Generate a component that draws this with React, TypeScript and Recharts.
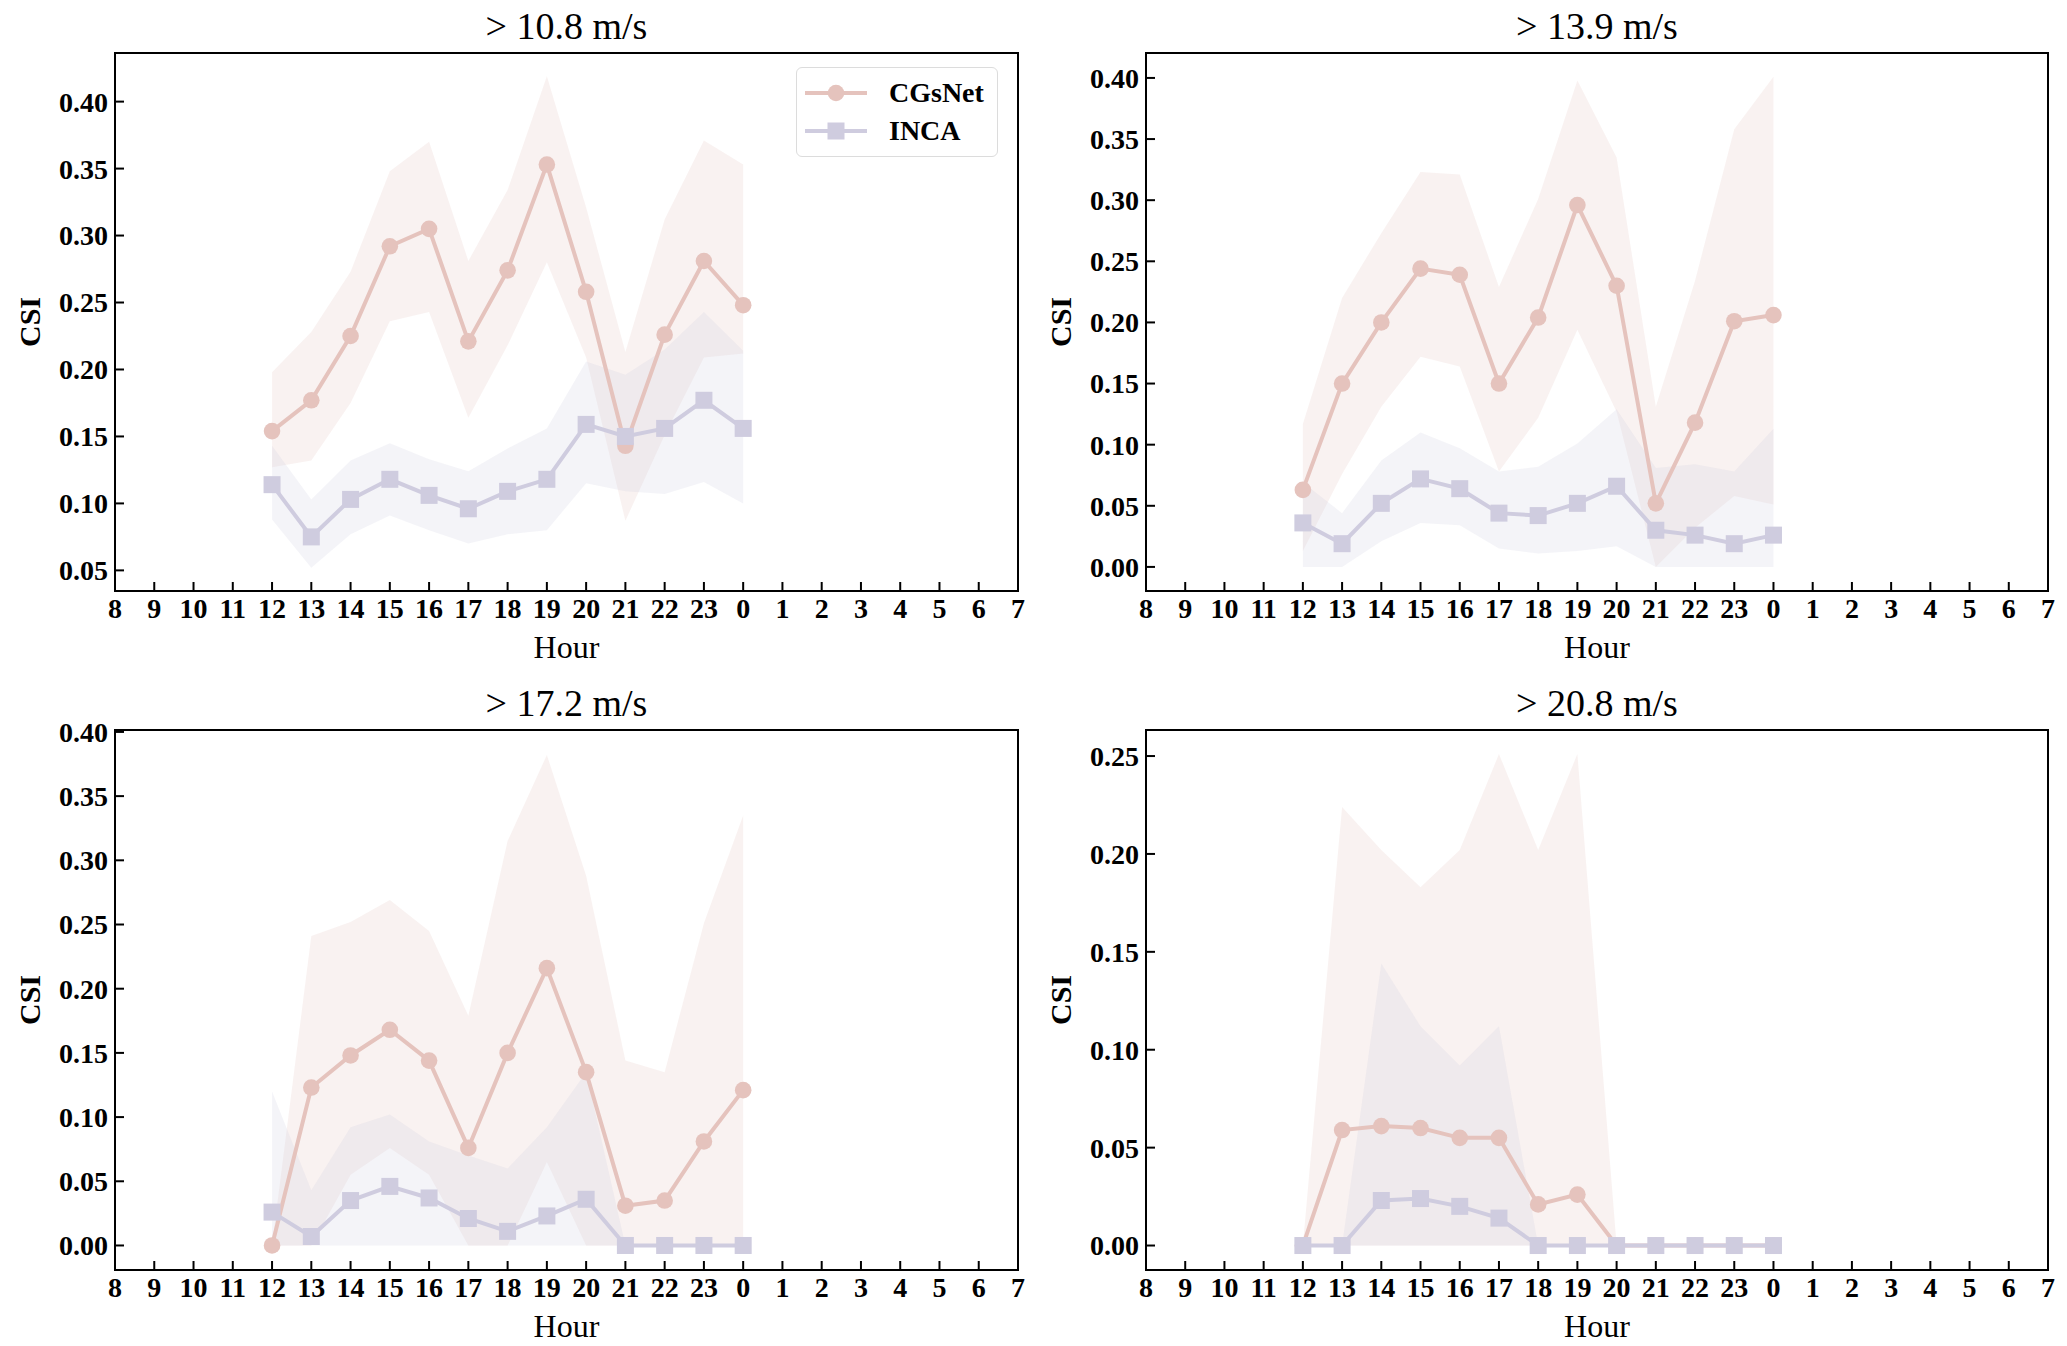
import {
  ComposedChart,
  Area,
  Line,
  XAxis,
  YAxis,
  ReferenceArea,
} from 'recharts';

const FONT = '"Liberation Serif", "Times New Roman", Times, serif';
const CG_COLOR = '#e5c3bd';
const INCA_COLOR = '#cfccdf';

// x axis runs 08 .. 07 next day, data spans 12 .. 00
const HOURS = ['8', '9', '10', '11', '12', '13', '14', '15', '16', '17', '18', '19', '20', '21', '22', '23', '0', '1', '2', '3', '4', '5', '6', '7'];
const FIRST_IDX = 4;

// > 10.8 m/s
const CG_108 = [0.154, 0.177, 0.225, 0.292, 0.305, 0.221, 0.274, 0.353, 0.258, 0.143, 0.226, 0.281, 0.248];
const CG_108_LO = [0.127, 0.132, 0.175, 0.236, 0.243, 0.164, 0.218, 0.28, 0.209, 0.087, 0.151, 0.209, 0.212];
const CG_108_HI = [0.198, 0.228, 0.273, 0.348, 0.37, 0.281, 0.334, 0.419, 0.321, 0.213, 0.312, 0.371, 0.353];
const INCA_108 = [0.114, 0.075, 0.103, 0.118, 0.106, 0.096, 0.109, 0.118, 0.159, 0.15, 0.156, 0.177, 0.156];
const INCA_108_LO = [0.088, 0.052, 0.077, 0.091, 0.08, 0.07, 0.077, 0.08, 0.115, 0.109, 0.107, 0.116, 0.1];
const INCA_108_HI = [0.143, 0.103, 0.132, 0.145, 0.133, 0.124, 0.141, 0.156, 0.206, 0.196, 0.215, 0.243, 0.214];

// > 13.9 m/s
const CG_139 = [0.063, 0.15, 0.2, 0.244, 0.239, 0.15, 0.204, 0.296, 0.23, 0.052, 0.118, 0.201, 0.206];
const CG_139_LO = [0.013, 0.076, 0.131, 0.172, 0.164, 0.078, 0.122, 0.194, 0.127, 0, 0.032, 0.058, 0.051];
const CG_139_HI = [0.117, 0.22, 0.273, 0.323, 0.321, 0.229, 0.301, 0.398, 0.335, 0.131, 0.234, 0.358, 0.401];
const INCA_139 = [0.036, 0.019, 0.052, 0.072, 0.064, 0.044, 0.042, 0.052, 0.066, 0.03, 0.026, 0.019, 0.026];
const INCA_139_LO = [0, 0, 0.021, 0.036, 0.034, 0.015, 0.011, 0.013, 0.017, 0, 0, 0, 0];
const INCA_139_HI = [0.069, 0.044, 0.087, 0.11, 0.097, 0.078, 0.082, 0.101, 0.129, 0.081, 0.084, 0.078, 0.113];

// > 17.2 m/s
const CG_172 = [0, 0.123, 0.148, 0.168, 0.144, 0.076, 0.15, 0.216, 0.135, 0.031, 0.035, 0.081, 0.121];
const CG_172_LO = [0, 0, 0.055, 0.076, 0.055, 0, 0, 0.065, 0, 0, 0, 0, 0];
const CG_172_HI = [0, 0.241, 0.252, 0.269, 0.245, 0.179, 0.315, 0.382, 0.288, 0.144, 0.135, 0.251, 0.335];
const INCA_172 = [0.026, 0.007, 0.035, 0.046, 0.037, 0.021, 0.011, 0.023, 0.036, 0, 0, 0, 0];
const INCA_172_LO = [0, 0, 0, 0, 0, 0, 0, 0, 0, 0, 0, 0, 0];
const INCA_172_HI = [0.12, 0.043, 0.092, 0.102, 0.081, 0.07, 0.06, 0.092, 0.135, 0, 0, 0, 0];

// > 20.8 m/s
const CG_208 = [0, 0.059, 0.061, 0.06, 0.055, 0.055, 0.021, 0.026, 0, 0, 0, 0, 0];
const CG_208_LO = [0, 0, 0, 0, 0, 0, 0, 0, 0, 0, 0, 0, 0];
const CG_208_HI = [0, 0.224, 0.202, 0.183, 0.202, 0.251, 0.202, 0.251, 0, 0, 0, 0, 0];
const INCA_208 = [0, 0, 0.023, 0.024, 0.02, 0.014, 0, 0, 0, 0, 0, 0, 0];
const INCA_208_LO = [0, 0, 0, 0, 0, 0, 0, 0, 0, 0, 0, 0, 0];
const INCA_208_HI = [0, 0, 0.144, 0.112, 0.092, 0.112, 0, 0, 0, 0, 0, 0, 0];

function buildRows(cg: number[], cgLo: number[], cgHi: number[], inca: number[], incaLo: number[], incaHi: number[]) {
  return cg.map((v, i) => ({
    x: FIRST_IDX + i,
    cg: v,
    cgBand: [cgLo[i], cgHi[i]],
    inca: inca[i],
    incaBand: [incaLo[i], incaHi[i]],
  }));
}

const TICK_STYLE = { fill: '#000', fontSize: 28, fontWeight: 700, fontFamily: FONT };
const AXIS_LINE = { stroke: '#000', strokeWidth: 2 };
const TICK_LINE = { stroke: '#000', strokeWidth: 2 };

function SquareDot(props: any) {
  const { cx, cy, index } = props;
  if (cx == null || cy == null) return null;
  return <rect key={`sq-${index}`} x={cx - 8.5} y={cy - 8.5} width={17} height={17} fill={INCA_COLOR} />;
}

interface PanelProps {
  title: string;
  left: number;
  top: number;
  margin: { top: number; right: number; bottom: number; left: number };
  domain: [number, number];
  yTicks: number[];
  rows: ReturnType<typeof buildRows>;
  legend?: boolean;
}

const W = 1033;
const H = 673;

function Panel({ title, left, top, margin, domain, yTicks, rows, legend }: PanelProps) {
  const plotLeft = margin.left + 100;
  const plotRight = W - margin.right;
  const plotTop = margin.top;
  const plotBottom = H - margin.bottom - 60;
  const cx = (plotLeft + plotRight) / 2;
  const cy = (plotTop + plotBottom) / 2;
  return (
    <div style={{ position: 'absolute', left, top, width: W, height: H }}>
      <ComposedChart width={W} height={H} data={rows} margin={margin}>
        <XAxis
          type="number"
          dataKey="x"
          domain={[0, 23]}
          ticks={HOURS.map((_, i) => i)}
          tickFormatter={(v: number) => HOURS[v]}
          interval={0}
          allowDataOverflow
          height={60}
          tick={TICK_STYLE}
          axisLine={AXIS_LINE}
          tickLine={TICK_LINE}
          tickSize={-9}
          tickMargin={16}
        />
        <YAxis
          type="number"
          domain={domain}
          ticks={yTicks}
          tickFormatter={(v: number) => v.toFixed(2)}
          interval={0}
          allowDataOverflow
          width={100}
          tick={TICK_STYLE}
          axisLine={AXIS_LINE}
          tickLine={TICK_LINE}
          tickSize={-9}
          tickMargin={16}
        />
        <Area
          type="linear"
          dataKey="cgBand"
          stroke="none"
          fill={CG_COLOR}
          fillOpacity={0.22}
          isAnimationActive={false}
          activeDot={false}
        />
        <Area
          type="linear"
          dataKey="incaBand"
          stroke="none"
          fill={INCA_COLOR}
          fillOpacity={0.22}
          isAnimationActive={false}
          activeDot={false}
        />
        <Line
          type="linear"
          dataKey="cg"
          stroke={CG_COLOR}
          strokeWidth={4}
          dot={{ r: 8.3, fill: CG_COLOR, stroke: 'none' }}
          activeDot={false}
          isAnimationActive={false}
        />
        <Line
          type="linear"
          dataKey="inca"
          stroke={INCA_COLOR}
          strokeWidth={4}
          dot={SquareDot}
          activeDot={false}
          isAnimationActive={false}
        />
        <ReferenceArea x1={0} x2={23} y1={domain[0]} y2={domain[1]} fill="none" stroke="#000" strokeWidth={2} ifOverflow="visible" />
      </ComposedChart>
      <div style={{ position: 'absolute', left: cx, top: plotTop - 27, transform: 'translate(-50%, -50%)', fontFamily: FONT, fontSize: 38, lineHeight: 1, whiteSpace: 'nowrap' }}>
        {title}
      </div>
      <div style={{ position: 'absolute', left: cx, top: plotBottom + 56, transform: 'translate(-50%, -50%)', fontFamily: FONT, fontSize: 32, lineHeight: 1, whiteSpace: 'nowrap' }}>
        Hour
      </div>
      <div style={{ position: 'absolute', left: plotLeft - 85, top: cy, transform: 'translate(-50%, -50%) rotate(-90deg)', fontFamily: FONT, fontSize: 30, fontWeight: 700, lineHeight: 1, whiteSpace: 'nowrap' }}>
        CSI
      </div>
      {legend && (
        <div style={{ position: 'absolute', left: 796, top: 67, width: 200, height: 88, border: '1.5px solid #dcdcdc', borderRadius: 6, background: 'rgba(255,255,255,0.8)', fontFamily: FONT, fontSize: 28, fontWeight: 700 }}>
          <svg width={70} height={88} style={{ position: 'absolute', left: 8, top: 0 }}>
            <line x1={0} x2={62} y1={25} y2={25} stroke={CG_COLOR} strokeWidth={4} />
            <circle cx={31} cy={25} r={8.3} fill={CG_COLOR} />
            <line x1={0} x2={62} y1={63} y2={63} stroke={INCA_COLOR} strokeWidth={4} />
            <rect x={22.5} y={54.5} width={17} height={17} fill={INCA_COLOR} />
          </svg>
          <div style={{ position: 'absolute', left: 92, top: 25, transform: 'translateY(-50%)', lineHeight: 1 }}>CGsNet</div>
          <div style={{ position: 'absolute', left: 92, top: 63, transform: 'translateY(-50%)', lineHeight: 1 }}>INCA</div>
        </div>
      )}
    </div>
  );
}

const TICKS_A = [0.05, 0.1, 0.15, 0.2, 0.25, 0.3, 0.35, 0.4];
const TICKS_B = [0, 0.05, 0.1, 0.15, 0.2, 0.25, 0.3, 0.35, 0.4];
const TICKS_C = [0, 0.05, 0.1, 0.15, 0.2, 0.25];

export default function App() {
  return (
    <div style={{ position: 'absolute', left: 0, top: 0, width: 2067, height: 1346, background: '#fff', overflow: 'hidden' }}>
      <Panel
        title="> 10.8 m/s"
        left={0}
        top={0}
        margin={{ top: 53, right: 15, bottom: 22, left: 15 }}
        domain={[0.0346, 0.4363]}
        yTicks={TICKS_A}
        rows={buildRows(CG_108, CG_108_LO, CG_108_HI, INCA_108, INCA_108_LO, INCA_108_HI)}
        legend
      />
      <Panel
        title="> 13.9 m/s"
        left={1033}
        top={0}
        margin={{ top: 53, right: 18, bottom: 22, left: 13 }}
        domain={[-0.0197, 0.4204]}
        yTicks={TICKS_B}
        rows={buildRows(CG_139, CG_139_LO, CG_139_HI, INCA_139, INCA_139_LO, INCA_139_HI)}
      />
      <Panel
        title="> 17.2 m/s"
        left={0}
        top={673}
        margin={{ top: 57, right: 15, bottom: 16, left: 15 }}
        domain={[-0.0191, 0.4015]}
        yTicks={TICKS_B}
        rows={buildRows(CG_172, CG_172_LO, CG_172_HI, INCA_172, INCA_172_LO, INCA_172_HI)}
      />
      <Panel
        title="> 20.8 m/s"
        left={1033}
        top={673}
        margin={{ top: 57, right: 18, bottom: 16, left: 13 }}
        domain={[-0.0125, 0.2633]}
        yTicks={TICKS_C}
        rows={buildRows(CG_208, CG_208_LO, CG_208_HI, INCA_208, INCA_208_LO, INCA_208_HI)}
      />
    </div>
  );
}
